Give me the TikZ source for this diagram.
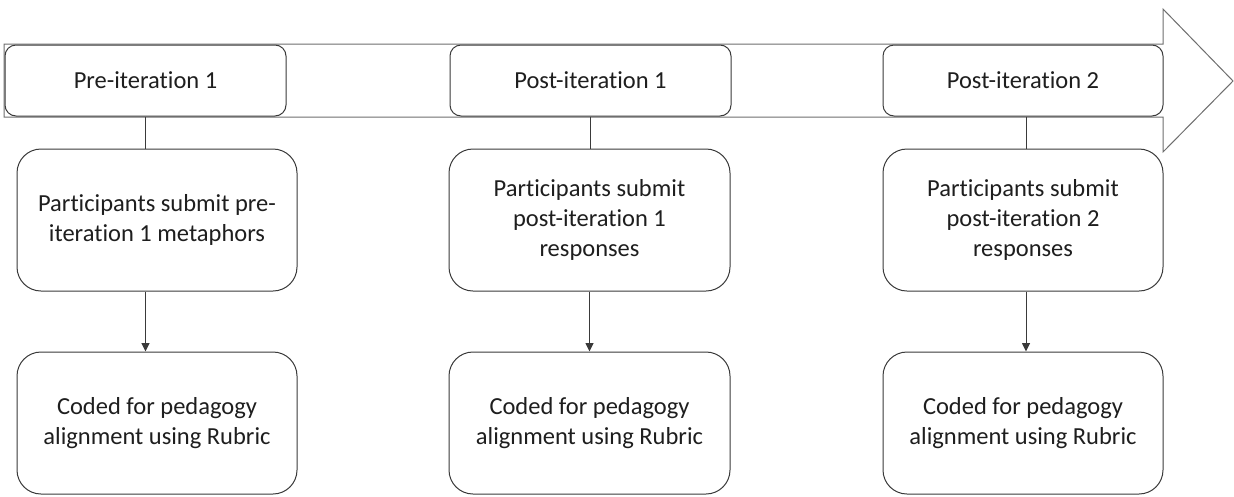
\documentclass[tikz,border=0pt]{standalone}
\usepackage{fontspec}
\setmainfont[Ligatures=NoCommon]{Carlito}
\usetikzlibrary{arrows.meta}
\definecolor{boxline}{HTML}{3A3A3A}
\definecolor{arrowline}{HTML}{6E6E6E}
\definecolor{ink}{HTML}{1E1E1E}
\begin{document}
\begin{tikzpicture}[x=1pt,y=-1pt,
  phase/.style={draw=boxline, line width=1pt, fill=white, rounded corners=11pt,
    minimum width=281pt, minimum height=71pt, inner sep=0pt, text=ink,
    font=\fontsize{24.5}{30}\selectfont},
  stagebox/.style={draw=boxline, line width=1pt, fill=white, rounded corners=24pt,
    minimum width=280pt, minimum height=142pt, inner sep=0pt, text=ink, align=center,
    font=\fontsize{24.5}{30}\selectfont},
  link/.style={draw=boxline, line width=0.9pt},
  flow/.style={link, -{Triangle[length=8.5pt,width=8pt]}}]
\useasboundingbox (0,0) rectangle (1234,496);
% timeline arrow
\draw[arrowline, line width=1pt, fill=white]
  (4,44) -- (1163,44) -- (1163,9) -- (1233,81) -- (1163,152) -- (1163,117) -- (4,117) -- cycle;
% phases on the timeline
\node[phase] (t1) at (145.5,80.5) {Pre-iteration 1};
\node[phase] (t2) at (590.5,80.5) {Post-iteration 1};
\node[phase, minimum width=280pt] (t3) at (1023,80.5) {Post-iteration 2};
% submissions
\node[stagebox] (m1) at (157,220) {Participants submit pre-\\iteration 1 metaphors};
\node[stagebox, minimum width=281pt] (m2) at (589.5,220) {Participants submit\\post-iteration 1\\responses};
\node[stagebox] (m3) at (1023,220) {Participants submit\\post-iteration 2\\responses};
% coding
\node[stagebox] (b1) at (157,423) {Coded for pedagogy\\alignment using Rubric};
\node[stagebox, minimum width=281pt] (b2) at (589.5,423) {Coded for pedagogy\\alignment using Rubric};
\node[stagebox] (b3) at (1023,423) {Coded for pedagogy\\alignment using Rubric};
% connectors
\draw[link] (t1.south) -- (t1.south |- m1.north);
\draw[flow] (t1.south |- m1.south) -- (t1.south |- b1.north);
\draw[link] (t2.south) -- (t2.south |- m2.north);
\draw[flow] (m2.south) -- (b2.north);
\draw[link] ([xshift=3pt]t3.south) -- ([xshift=3pt]t3.south |- m3.north);
\draw[flow] ([xshift=3pt]m3.south) -- ([xshift=3pt]b3.north);
\end{tikzpicture}
\end{document}
